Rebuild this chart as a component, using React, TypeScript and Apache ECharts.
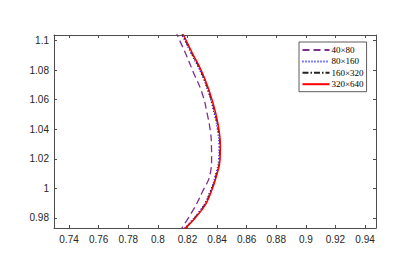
import React, { useEffect, useRef } from "react";
import * as echarts from "echarts";

const seriesNames = ["40×80", "80×160", "160×320", "320×640"];
const yLevels = [1.1065, 1.0917, 1.0782, 1.0647, 1.0511, 1.0376, 1.0286, 1.0196, 1.0106, 0.9971, 0.9858, 0.9705];
const x40x80 = [0.8117, 0.8185, 0.8241, 0.8298, 0.8332, 0.8356, 0.8362, 0.8363, 0.8355, 0.8298, 0.8241, 0.8144];
const x80x160 = [0.8150, 0.8222, 0.8290, 0.8341, 0.8379, 0.8405, 0.8412, 0.8410, 0.8393, 0.8349, 0.8290, 0.8155];
const x160x320 = [0.8155, 0.8227, 0.8295, 0.8346, 0.8385, 0.8412, 0.8419, 0.8417, 0.8398, 0.8354, 0.8295, 0.8158];
const x320x640 = [0.8159, 0.8232, 0.8300, 0.8351, 0.8390, 0.8416, 0.8422, 0.8420, 0.8402, 0.8358, 0.8300, 0.8160];

const xTicks = [0.74, 0.76, 0.78, 0.8, 0.82, 0.84, 0.86, 0.88, 0.9, 0.92, 0.94];
const yTicks = [0.98, 1, 1.02, 1.04, 1.06, 1.08, 1.1];
const xRange = [0.7298, 0.9474];
const yRange = [0.9732, 1.1037];

export default function App() {
  const ref = useRef<HTMLDivElement>(null);
  useEffect(() => {
    if (!ref.current) return;
    const chart = echarts.init(ref.current, undefined, { renderer: "svg" });
    const axisColor = "#4d4d4d";
    const labelStyle = { color: "#262626", fontSize: 10, fontFamily: "Liberation Sans" };
    const xAxisBase = (pos: string, show: boolean) => ({
      type: "value",
      position: pos,
      min: xRange[0],
      max: xRange[1],
      axisLine: { show: true, lineStyle: { color: axisColor, width: 1 } },
      axisTick: { show: true, inside: true, length: 3, customValues: xTicks, lineStyle: { color: axisColor } },
      axisLabel: { show, customValues: xTicks, margin: 6, ...labelStyle },
      splitLine: { show: false },
    });
    const yAxisBase = (pos: string, show: boolean) => ({
      type: "value",
      position: pos,
      min: yRange[0],
      max: yRange[1],
      axisLine: { show: true, lineStyle: { color: axisColor, width: 1 } },
      axisTick: { show: true, inside: true, length: 3, customValues: yTicks, lineStyle: { color: axisColor } },
      axisLabel: { show, customValues: yTicks, margin: 5, ...labelStyle },
      splitLine: { show: false },
    });
    const styles = [
      { color: "#7E2F8E", width: 1.3, type: [7, 4] },
      { color: "#0000FF", width: 1.2, type: [1, 2] },
      { color: "#222222", width: 1.3, type: [6, 2, 1.5, 2] },
      { color: "#FF0000", width: 1.5, type: "solid" },
    ];
    const xs = [x40x80, x80x160, x160x320, x320x640];
    chart.setOption({
      animation: false,
      backgroundColor: "#ffffff",
      grid: { left: 54, right: 39, top: 35, bottom: 45, containLabel: false },
      xAxis: [xAxisBase("bottom", true), xAxisBase("top", false)],
      yAxis: [yAxisBase("left", true), yAxisBase("right", false)],
      legend: {
        orient: "vertical",
        left: 299,
        top: 42,
        itemWidth: 27,
        itemHeight: 8,
        itemGap: 2.4,
        padding: [3.5, 3, 3, 2.5],
        borderColor: "#333333",
        borderWidth: 0.8,
        borderRadius: 0,
        backgroundColor: "#ffffff",
        data: seriesNames,
        itemStyle: { opacity: 0 },
        textStyle: { fontFamily: "Liberation Serif", fontSize: 9, color: "#000000", padding: [0, 0, 0, -3] },
      },
      series: seriesNames.map((name, i) => ({
        name,
        type: "line",
        xAxisIndex: 0,
        yAxisIndex: 0,
        data: xs[i].map((x, j) => [x, yLevels[j]]),
        showSymbol: false,
        symbol: "none",
        smooth: 0.5,
        clip: true,
        lineStyle: styles[i],
        itemStyle: { color: styles[i].color },
        emphasis: { disabled: true },
      })),
    });
    return () => chart.dispose();
  }, []);
  return <div ref={ref} style={{ position: "fixed", left: 0, top: 0, width: 415, height: 273 }} />;
}
